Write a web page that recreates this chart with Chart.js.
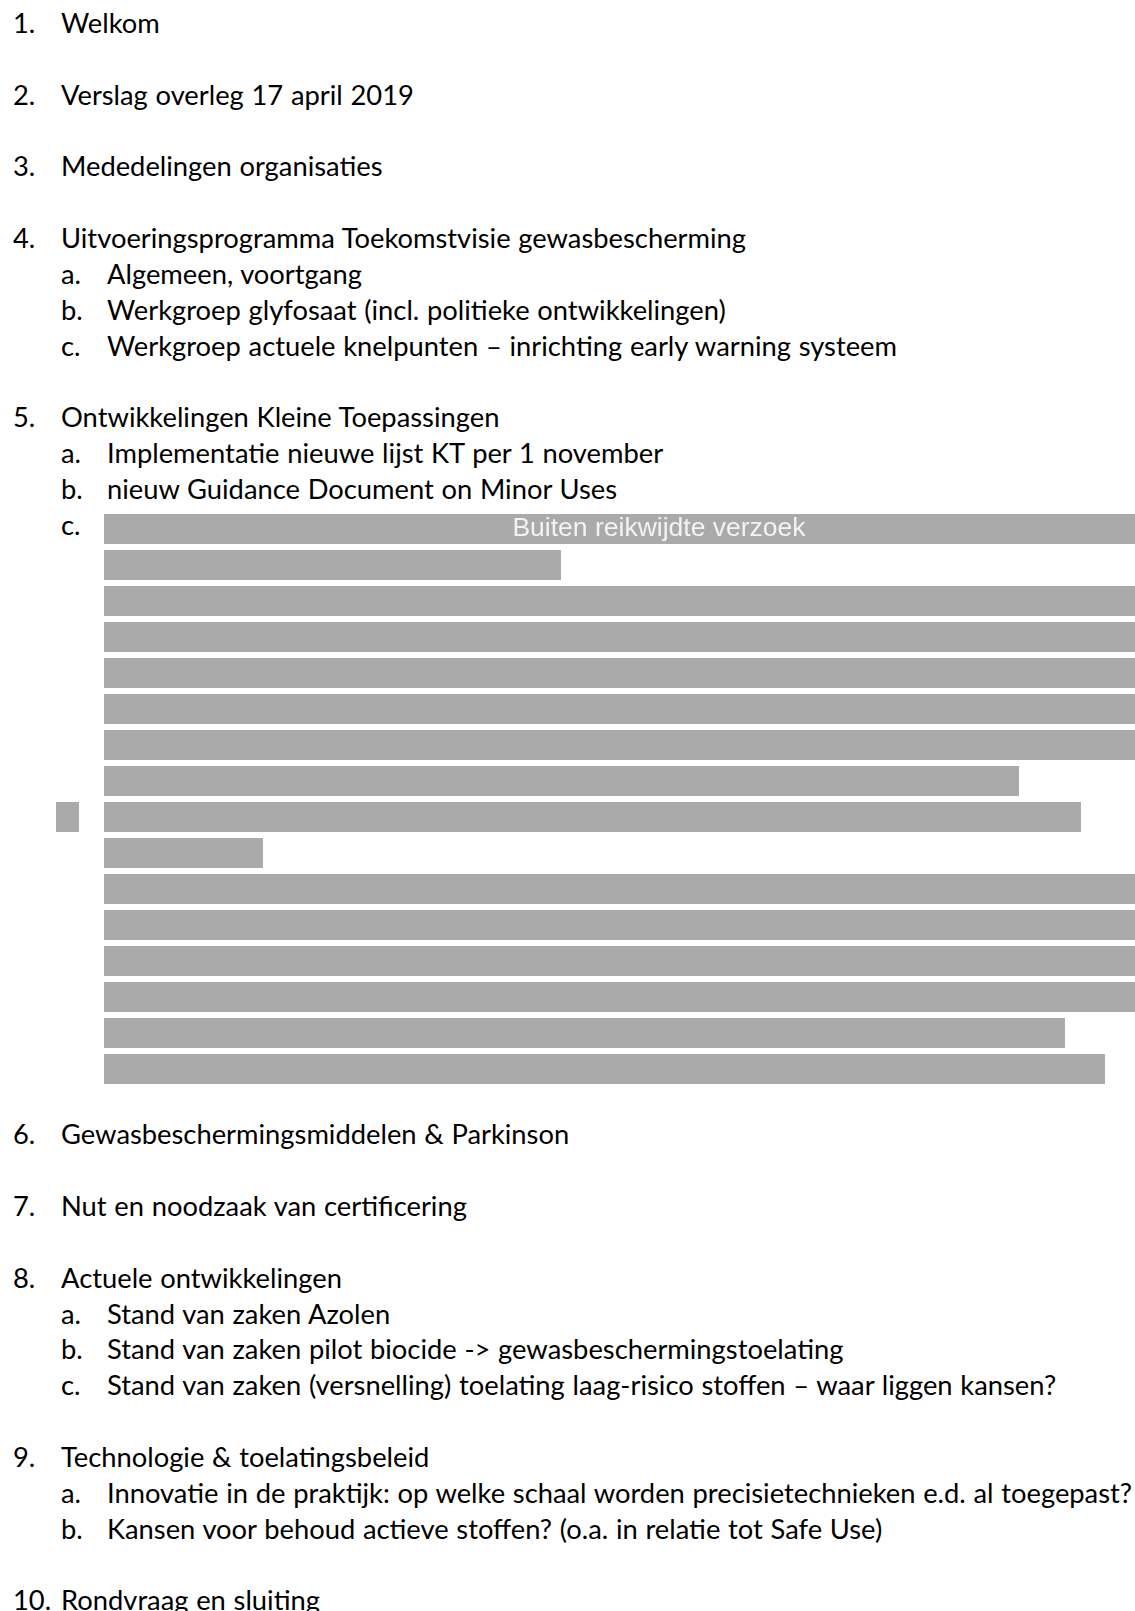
<!DOCTYPE html>
<html>
<head>
<meta charset="utf-8">
<script src="https://cdn.jsdelivr.net/npm/chart.js"></script>
<style>
  html, body { margin: 0; padding: 0; background: #fff; }
  body { width: 1135px; height: 1611px; position: relative; overflow: hidden; color: #000; font-family: Lato, sans-serif; }
  .ln { position: absolute; white-space: nowrap; word-spacing: 0.7px; }
  #wrap { position: absolute; left: 0; top: 511px; width: 1135px; height: 576px; }
</style>
</head>
<body>
<div id="page"></div>
<div id="wrap"><canvas id="redact" width="1135" height="576"></canvas></div>
<script>
// agenda items
const itemNums = ['1.', '2.', '3.', '4.', '5.', '6.', '7.', '8.', '9.', '10.'];
const itemTitles = [
  'Welkom',
  'Verslag overleg 17 april 2019',
  'Mededelingen organisaties',
  'Uitvoeringsprogramma Toekomstvisie gewasbescherming',
  'Ontwikkelingen Kleine Toepassingen',
  'Gewasbeschermingsmiddelen & Parkinson',
  'Nut en noodzaak van certificering',
  'Actuele ontwikkelingen',
  'Technologie & toelatingsbeleid',
  'Rondvraag en sluiting'
];
const subLetters = [[], [], [], ['a.', 'b.', 'c.'], ['a.', 'b.', 'c.'], [], [], ['a.', 'b.', 'c.'], ['a.', 'b.'], []];
const subTitles = [
  [], [], [],
  ['Algemeen, voortgang',
   'Werkgroep glyfosaat (incl. politieke ontwikkelingen)',
   'Werkgroep actuele knelpunten \u2013 inrichting early warning systeem'],
  ['Implementatie nieuwe lijst KT per 1 november',
   'nieuw Guidance Document on Minor Uses',
   ''],
  [], [],
  ['Stand van zaken Azolen',
   'Stand van zaken pilot biocide -> gewasbeschermingstoelating',
   'Stand van zaken (versnelling) toelating laag-risico stoffen \u2013 waar liggen kansen?'],
  ['Innovatie in de praktijk: op welke schaal worden precisietechnieken e.d. al toegepast?',
   'Kansen voor behoud actieve stoffen? (o.a. in relatie tot Safe Use)'],
  []
];

// redacted block under 5c, one row per text line
const redactRows = ['r1','r2','r3','r4','r5','r6','r7','r8','r9','r10','r11','r12','r13','r14','r15','r16'];
const redactStart = [104, 104, 104, 104, 104, 104, 104, 104, 104, 104, 104, 104, 104, 104, 104, 104];
const redactEnd = [1135, 561, 1135, 1135, 1135, 1135, 1135, 1019, 1081, 263, 1135, 1135, 1135, 1135, 1065, 1105];
const sideBlock = [null, null, null, null, null, null, null, null, [56, 79], null, null, null, null, null, null, null];
const redactLabel = 'Buiten reikwijdte verzoek';

const lineTop = 24.2, linePitch = 35.85;

function layoutText() {
  let c = document.createElement('canvas').getContext('2d');
  c.font = '100px Lato';
  let size = 100 * 321 / c.measureText('Mededelingen organisaties').width;
  let page = document.getElementById('page');
  let line = 0;

  function put(x, n, txt) {
    if (!txt) return;
    let baseline = lineTop + n * linePitch + size * 0.717 / 2;
    let d = document.createElement('div');
    d.className = 'ln';
    d.style.fontSize = size + 'px';
    d.style.lineHeight = (size * 1.2) + 'px';
    d.style.left = x + 'px';
    d.style.top = (baseline - size * 0.987) + 'px';
    d.textContent = txt;
    page.appendChild(d);
  }

  for (let i = 0; i < itemNums.length; i++) {
    put(13, line, itemNums[i]);
    put(61, line, itemTitles[i]);
    line++;
    for (let j = 0; j < subLetters[i].length; j++) {
      put(61, line, subLetters[i][j]);
      put(107, line, subTitles[i][j]);
      line++;
    }
    // the redacted part of 5c takes the rest of its rows
    if (i == 4) line += redactRows.length - 1;
    line++;
  }
}

const labelPlugin = {
  id: 'redactLabel',
  afterDatasetsDraw(chart) {
    let bar = chart.getDatasetMeta(0).data[0];
    let ctx = chart.ctx;
    ctx.save();
    ctx.fillStyle = '#f3f3f3';
    ctx.font = '26.5px "Liberation Sans", Arial, sans-serif';
    ctx.textAlign = 'center';
    ctx.textBaseline = 'middle';
    ctx.fillText(redactLabel, chart.scales.x.getPixelForValue(659), bar.y);
    ctx.restore();
  }
};

window.addEventListener('load', async function () {
  try { await document.fonts.load('100px Lato'); } catch (e) {}
  layoutText();

  new Chart(document.getElementById('redact'), {
    type: 'bar',
    data: {
      labels: redactRows,
      datasets: [{
        data: redactStart.map((s, i) => [s, redactEnd[i]]),
        backgroundColor: '#aaaaaa',
        borderWidth: 0,
        barPercentage: 30 / 36,
        categoryPercentage: 1,
        grouped: false
      }, {
        data: sideBlock,
        backgroundColor: '#aaaaaa',
        borderWidth: 0,
        barPercentage: 30 / 36,
        categoryPercentage: 1,
        grouped: false
      }]
    },
    options: {
      indexAxis: 'y',
      responsive: false,
      animation: false,
      layout: { padding: 0 },
      plugins: { legend: { display: false }, tooltip: { enabled: false } },
      scales: {
        x: { type: 'linear', min: 0, max: 1135, display: false },
        y: { display: false }
      }
    },
    plugins: [labelPlugin]
  });
});
</script>
</body>
</html>
